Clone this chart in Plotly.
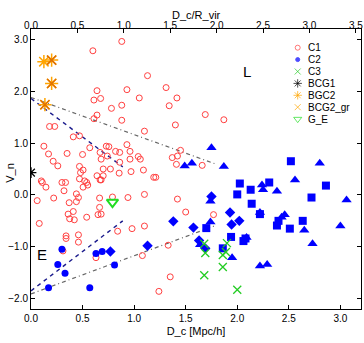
import plotly.graph_objects as go

# D_c [Mpc/h] and V_n for each group
c1_x = [0.88, 0.60, 1.13, 0.64, 0.93, 1.31, 0.61, 0.675, 1.05, 1.415, 0.78, 0.88, 1.34, 0.64, 0.61,
        0.88, 1.69, 1.87, 1.40, 1.10, 0.18, 0.23, 0.41, 0.47, 0.125, 0.57, 0.73, 0.755, 0.93,
        0.82, 0.86, 0.96, 0.67, 1.45, 0.68, 0.74, 0.86, 0.96, 1.04, 1.06, 1.37, 1.42, 1.41, 1.66,
        0.70, 0.77, 0.97, 1.09, 0.70, 0.68, 1.19, 1.21, 0.855,
        0.17, 0.35, 0.50, 0.215, 0.26, 0.47, 0.48, 0.505, 0.64, 0.10, 0.11, 0.145, 0.30, 0.335,
        0.32, 0.47, 0.52, 0.54, 0.505, 0.44, 0.55, 0.67,
        0.06, 0.22, 0.37, 0.46, 0.44, 0.665, 0.94, 1.10, 0.41, 0.36, 0.375, 0.42, 0.665, 0.65, 0.68,
        0.54, 0.08, 0.84, 0.98, 1.10, 0.34, 0.34, 0.46, 0.46, 0.31, 0.63, 1.08, 1.24, 0.79,
        1.42, 1.50, 1.77, 1.33, 1.35]
c1_y = [2.96, 2.78, 2.30, 2.01, 2.03, 2.07, 1.83, 1.86, 1.87, 1.87, 1.67, 1.73, 1.72, 1.54, 1.47,
        1.44, 1.55, 1.45, 1.35, 1.23, 1.32, 1.32, 1.12, 1.14, 0.94, 0.91, 0.94, 0.93, 0.97,
        0.84, 0.82, 0.84, 0.82, 0.86, 0.69, 0.75, 0.63, 0.69, 0.74, 0.69, 0.72, 0.75, 0.59, 0.57,
        0.50, 0.50, 0.45, 0.48, 0.37, 0.29, 0.34, 0.34, 0.42,
        0.79, 0.80, 0.78, 0.65, 0.56, 0.55, 0.43, 0.48, 0.37, 0.27, 0.24, 0.15, 0.24, 0.24,
        0.08, 0.31, 0.27, 0.24, 0.15, 0.02, 0.19, 0.29,
        -0.11, -0.06, -0.15, -0.05, -0.13, -0.06, -0.05, 0.01, -0.32, -0.37, -0.46, -0.48, -0.24, -0.38, -0.37,
        -0.43, -0.55, -0.70, -0.65, -0.60, -0.79, -0.84, -0.77, -0.91, -1.08, -1.21, -1.17, -1.86, -0.04,
        -0.08, -0.33, -0.38, -0.97, -1.58]

c2_x = [0.30, 0.26, 0.33, 0.17, 0.57, 0.63, 0.69, 0.81]
c2_y = [-1.05, -1.34, -1.51, -1.79, -1.79, -1.13, -1.09, -1.35]

c3_x = [1.68, 1.69, 1.90, 1.89, 1.86, 1.86, 1.68, 2.00]
c3_y = [-0.94, -1.12, -0.93, -1.10, -1.16, -1.39, -1.55, -1.83]

dia_x = [0.77, 1.13, 1.75, 1.93, 2.02, 1.945, 1.38, 1.575, 1.63, 1.69]
dia_y = [-1.09, -0.98, -0.03, -0.34, -0.50, -0.57, -0.51, -0.63, -0.88, -1.03]

sq_x = [2.52, 2.86, 2.31, 2.025, 2.13, 2.00, 2.72, 2.14, 2.22, 2.40, 2.385, 2.635, 2.51, 1.70,
        1.94, 2.06, 2.08, 1.86]
sq_y = [0.65, 0.18, 0.24, 0.22, 0.10, 0.01, -0.05, -0.17, -0.37, -0.50, -0.59, -0.50, -0.65, -0.64,
        -0.81, -0.89, -0.84, -1.03]

tri_x = [1.75, 1.49, 1.56, 1.87, 2.80, 2.56, 2.24, 2.25, 2.385, 3.06, 1.74, 2.22, 2.46, 2.43,
         1.74, 3.00, 2.65, 2.09, 2.73, 1.64, 1.95, 2.22, 2.29]
tri_y = [0.91, 0.56, 0.61, 0.55, 0.61, 0.29, 0.19, 0.10, 0.07, -0.10, -0.12, -0.34, -0.38, -0.43,
         -0.52, -0.60, -0.68, -0.82, -0.94, -0.96, -1.21, -1.37, -1.34]

bcg1_x = [0.0]
bcg1_y = [0.43]
bgc2_x = [0.125, 0.20, 0.20, 0.135]
bgc2_y = [2.57, 2.60, 2.15, 1.74]
bcg2gr_x = [0.20, 0.20, 0.135]
bcg2gr_y = [2.60, 2.15, 1.74]
ge_x = [0.79]
ge_y = [-0.14]

# boundary lines
up_dash_x, up_dash_y = [0.0, 0.89], [1.86, 0.54]
up_dd_x, up_dd_y = [0.0, 1.80], [1.88, 0.59]
lo_dash_x, lo_dash_y = [0.0, 0.89], [-1.85, -0.50]
lo_dd_x, lo_dd_y = [0.0, 1.79], [-1.91, -0.59]

r_vir = 0.9

legend_labels = ['C1', 'C2', 'C3', 'BCG1', 'BGC2', 'BCG2_gr', 'G_E']
legend_symbols = ['circle-open', 'circle', 'x-thin-open', 'asterisk-open', 'asterisk-open',
                  'x-thin-open', 'triangle-down-open']
legend_colors = ['#ff4040', '#0000ff', '#22cc22', '#000000', '#ffa500', '#ffa500', '#22dd22']
legend_sizes = [5, 4, 6, 7, 7, 6, 7]

red = '#ff4040'
blue = '#0000ff'
green = '#22cc22'
orange = '#ffa500'

fig = go.Figure()

def line(x, y, color, dash, width=1.2):
    fig.add_trace(go.Scatter(x=x, y=y, mode='lines', showlegend=False, hoverinfo='skip',
                             line=dict(color=color, dash=dash, width=width)))

line(up_dd_x, up_dd_y, '#666666', '4px,3px,1px,3px')
line(lo_dd_x, lo_dd_y, '#666666', '4px,3px,1px,3px')
line(up_dash_x, up_dash_y, '#1a1a8c', '4px,4px', 1.4)
line(lo_dash_x, lo_dash_y, '#1a1a8c', '4px,4px', 1.4)

fig.add_trace(go.Scatter(x=c1_x, y=c1_y, mode='markers', name='C1',
                         marker=dict(symbol='circle-open', size=6, color=red, line=dict(width=1))))
fig.add_trace(go.Scatter(x=c2_x, y=c2_y, mode='markers', name='C2',
                         marker=dict(symbol='circle', size=7, color=blue)))
fig.add_trace(go.Scatter(x=dia_x, y=dia_y, mode='markers', showlegend=False,
                         marker=dict(symbol='diamond', size=8, color=blue)))
fig.add_trace(go.Scatter(x=sq_x, y=sq_y, mode='markers', showlegend=False,
                         marker=dict(symbol='square', size=8, color=blue)))
fig.add_trace(go.Scatter(x=tri_x, y=tri_y, mode='markers', showlegend=False,
                         marker=dict(symbol='triangle-up', size=9, color=blue)))
fig.add_trace(go.Scatter(x=c3_x, y=c3_y, mode='markers', name='C3',
                         marker=dict(symbol='x-thin-open', size=8, color=green, line=dict(width=1.3))))
fig.add_trace(go.Scatter(x=bcg1_x, y=bcg1_y, mode='markers', name='BCG1',
                         marker=dict(symbol='asterisk-open', size=9, color='black', line=dict(width=1.3))))
fig.add_trace(go.Scatter(x=bgc2_x, y=bgc2_y, mode='markers', name='BGC2',
                         marker=dict(symbol='asterisk-open', size=11, color=orange, line=dict(width=1.5))))
fig.add_trace(go.Scatter(x=bcg2gr_x, y=bcg2gr_y, mode='markers', name='BCG2_gr',
                         marker=dict(symbol='x-thin-open', size=9, color='#e07000', line=dict(width=1.5))))
fig.add_trace(go.Scatter(x=ge_x, y=ge_y, mode='markers', name='G_E',
                         marker=dict(symbol='triangle-down-open', size=10, color='#22dd22', line=dict(width=2))))

# invisible trace so the top axis exists
fig.add_trace(go.Scatter(x=[0, 3.2 / r_vir], y=[0, 0], xaxis='x2', mode='markers',
                         marker=dict(opacity=0), showlegend=False, hoverinfo='skip'))

# hand-made compact legend on a pixel overlay axis
leg_y = [47.7 + i * 11.9 for i in range(len(legend_labels))]
fig.add_trace(go.Scatter(x=[297.7] * len(leg_y), y=leg_y, xaxis='x3', yaxis='y3', mode='markers',
                         showlegend=False, hoverinfo='skip',
                         marker=dict(symbol=legend_symbols, size=legend_sizes, color=legend_colors,
                                     line=dict(width=1, color=legend_colors))))
for lab, yy in zip(legend_labels, leg_y):
    fig.add_annotation(x=306, y=yy, xref='x3', yref='y3', text=lab, showarrow=False,
                       xanchor='left', yanchor='middle', font=dict(size=10))

fig.add_annotation(x=2.09, y=2.38, text='L', showarrow=False, font=dict(size=15))
fig.add_annotation(x=0.11, y=-1.14, text='E', showarrow=False, font=dict(size=15))

# axis titles placed by hand
fig.add_annotation(x=0.5, y=1.05, xref='paper', yref='paper', text='D_c/R_vir', showarrow=False,
                   xanchor='center', yanchor='middle', font=dict(size=11))
fig.add_annotation(x=-0.064, y=0.486, xref='paper', yref='paper', text='V_n', showarrow=False,
                   textangle=-90, xanchor='center', yanchor='middle', font=dict(size=11))

axis_common = dict(ticks='inside', ticklen=4, showgrid=False, zeroline=False, automargin=False,
                   linecolor='black', tickcolor='black', tickformat='.1f', dtick=0.5,
                   tickfont=dict(size=10))
fig.update_layout(
    width=364, height=343,
    margin=dict(l=31, r=3, t=29, b=34),
    plot_bgcolor='white', paper_bgcolor='white',
    font=dict(family='Liberation Sans, Arial, sans-serif', color='black'),
    showlegend=False,
    xaxis=dict(axis_common, range=[0, 3.2], showline=True, mirror=True,
               title=dict(text='D_c [Mpc/h]', font=dict(size=11), standoff=4)),
    xaxis2=dict(axis_common, range=[0, 3.2 / r_vir], overlaying='x', side='top', anchor='y',
                ticklabelstandoff=-5),
    yaxis=dict(axis_common, range=[-2.2, 3.2], dtick=1, showline=True, mirror='ticks'),
    xaxis3=dict(range=[31, 361], overlaying='x', visible=False, anchor='y3'),
    yaxis3=dict(range=[309, 29], overlaying='y', visible=False, anchor='x3'),
)

fig.write_html('out.html', config={'displayModeBar': False},
               post_script="document.body.style.margin='0';")
